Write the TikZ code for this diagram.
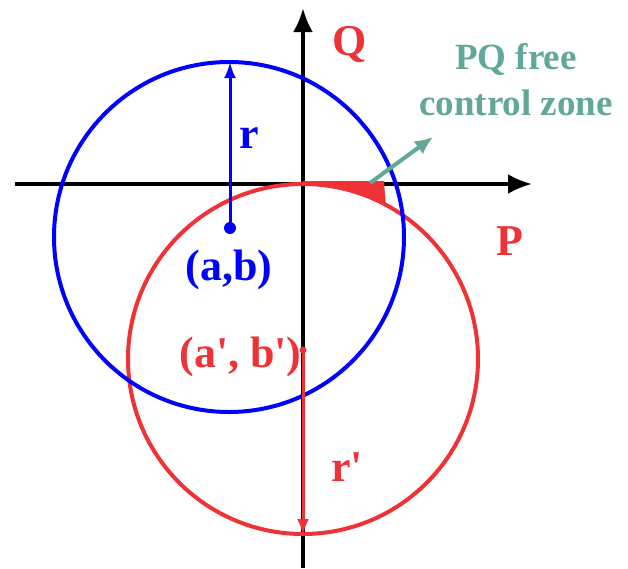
\documentclass[tikz,border=0pt]{standalone}
\usepackage{fontspec}
\setmainfont{Liberation Serif}
\usetikzlibrary{arrows.meta}
\definecolor{PQBlue}{rgb}{0,0,1}
\definecolor{PQRed}{RGB}{238,50,54}
\definecolor{ZoneTeal}{RGB}{98,168,152}
\tikzset{
  lbl/.style={font=\fontsize{44}{48}\selectfont\bfseries},
  zonelbl/.style={font=\fontsize{37}{46}\selectfont\bfseries, align=center, text=ZoneTeal},
  axisline/.style={black, line width=4pt, -{Latex[length=24pt,width=20pt]}},
  radline/.style={line width=3pt, -{Latex[length=16pt,width=12pt]}}
}
\newcommand{\prm}{\textquotesingle}
\begin{document}
\begin{tikzpicture}[x=1pt, y=1pt, line width=4pt]
        \useasboundingbox (-303,-384) rectangle (325,184);
        % Named points
        \coordinate (O) at (0,0);
        \coordinate (Pend) at (229,0);
        \coordinate (Pstart) at (-288,0);
        \coordinate (Qend) at (0,176);
        \coordinate (Qstart) at (0,-384);
        \coordinate (ab) at (-73,-44);
        \coordinate (btop) at (-73,122);
        \coordinate (abp) at (0,-166);
        \coordinate (rbot) at (0,-351);

        % P and Q axes
        \draw [axisline] (Pstart) -- (Pend);
        \draw [axisline] (Qstart) -- (Qend);

        % Red circle, tangent to the P axis at the origin
        \draw [PQRed] (0,-175) circle (175);
        \fill [PQRed] (O) arc [start angle=90, end angle=62.5, radius=175]
              -- ++(2,-2) -- (81,3) -- (0,3) -- cycle;

        % Blue circle
        \draw [PQBlue] (-74,-53) circle (175);

        % Radii
        \fill [PQBlue] (ab) circle (6);
        \draw [radline, PQBlue] (ab) -- (btop);
        \fill [PQRed] (abp) circle (3.5);
        \draw [radline, PQRed] (abp) -- (rbot);

        % Free zone arrow
        \coordinate (zs) at (67,1);
        \coordinate (ze) at (130,47);
        \draw [ZoneTeal, line width=4pt, -{Latex[length=18pt,width=16pt]}] (zs) -- (ze);

        % Labels
        \node [lbl, text=PQRed] (qlbl) at (47,140) {Q};
        \node [lbl, text=PQRed] (plbl) at (207,-57) {P};
        \node [lbl, text=PQBlue] (rlbl) at (-54,46) {r};
        \node [lbl, text=PQBlue] (ablbl) at (-74,-86) {(a,b)};
        \node [lbl, text=PQRed, anchor=east] (abplbl) at (4,-173) {(a\prm, b\prm)};
        \node [lbl, text=PQRed] (rplbl) at (44,-283) {r\prm};
        \node [zonelbl] (zone) at (213,104) {PQ free\\control zone};
    \end{tikzpicture}
\end{document}
